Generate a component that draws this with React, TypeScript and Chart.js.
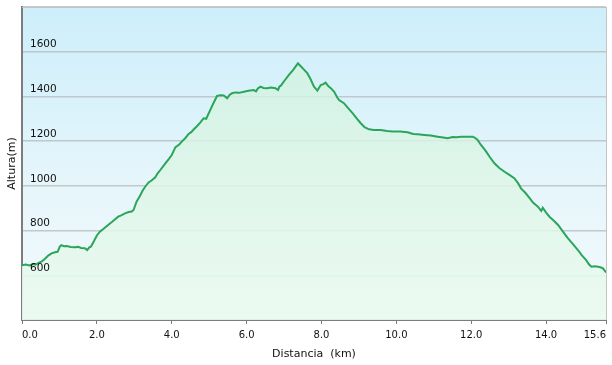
import React, { useEffect, useRef } from "react";
import { Chart, registerables } from "chart.js";

Chart.register(...registerables);

const distanceKm: number[] = [
  0.0, 0.1, 0.2, 0.29, 0.36, 0.43, 0.52, 0.6, 0.7, 0.79, 0.88, 0.95, 1.01, 1.05, 1.12, 1.2, 1.3, 1.41, 1.5, 1.58,
  1.68, 1.74, 1.8, 1.84, 1.92, 2.0, 2.08, 2.18, 2.3, 2.4, 2.48, 2.57, 2.65, 2.75, 2.85, 2.93, 2.98, 3.06, 3.15, 3.22,
  3.29, 3.38, 3.46, 3.56, 3.62, 3.7, 3.83, 3.92, 4.0, 4.1, 4.2, 4.28, 4.36, 4.45, 4.52, 4.59, 4.68, 4.76, 4.85, 4.92,
  5.03, 5.1, 5.21, 5.3, 5.39, 5.48, 5.55, 5.61, 5.7, 5.8, 5.93, 6.05, 6.19, 6.25, 6.3, 6.37, 6.45, 6.55, 6.65, 6.77,
  6.84, 6.88, 6.91, 7.0, 7.13, 7.25, 7.37, 7.44, 7.52, 7.62, 7.7, 7.8, 7.89, 7.98, 8.05, 8.11, 8.18, 8.25, 8.34, 8.42,
  8.47, 8.6, 8.7, 8.83, 8.95, 9.05, 9.15, 9.27, 9.4, 9.58, 9.75, 9.9, 10.1, 10.3, 10.45, 10.57, 10.75, 10.92, 11.1, 11.25,
  11.37, 11.5, 11.6, 11.73, 11.9, 12.04, 12.1, 12.17, 12.25, 12.35, 12.4, 12.5, 12.62, 12.75, 12.89, 13.02, 13.15, 13.25, 13.33, 13.45,
  13.56, 13.65, 13.78, 13.87, 13.91, 14.0, 14.09, 14.2, 14.32, 14.45, 14.58, 14.7, 14.85, 14.95, 15.07, 15.15, 15.21, 15.3, 15.39, 15.45,
  15.52, 15.6,
];

const altitudeM: number[] = [
  645, 648, 644, 650, 647, 654, 661, 672, 688, 698, 703, 705, 728, 735, 730, 731, 727, 725, 727, 722,
  721, 713, 725, 728, 752, 778, 795, 808, 825, 838, 850, 862, 868, 877, 883, 885, 892, 929, 955, 978,
  996, 1015, 1024, 1038, 1055, 1072, 1101, 1120, 1138, 1173, 1185, 1200, 1213, 1232, 1240, 1253, 1268, 1283, 1302, 1300,
  1340, 1365, 1402, 1405, 1404, 1392, 1408, 1414, 1418, 1416, 1421, 1425, 1429, 1423, 1436, 1444, 1438, 1437, 1440, 1437,
  1429, 1445, 1447, 1468, 1496, 1520, 1548, 1536, 1522, 1504, 1480, 1444, 1426, 1451, 1455, 1462, 1446, 1437, 1421, 1395,
  1384, 1370, 1350, 1325, 1300, 1280, 1262, 1253, 1250, 1250, 1245, 1243, 1243, 1240, 1232, 1231, 1228, 1225, 1220, 1216,
  1213, 1218, 1217, 1220, 1220, 1220, 1215, 1205, 1185, 1164, 1153, 1128, 1101, 1080, 1063, 1049, 1034, 1012, 989, 968,
  945, 925, 907, 888, 902, 880, 862, 845, 825, 795, 766, 743, 713, 690, 668, 648, 638, 640, 638, 636,
  631, 613,
];

const xTickValues: number[] = [0, 2, 4, 6, 8, 10, 12, 14, 15.6];
const yTickValues: number[] = [400, 600, 800, 1000, 1200, 1400, 1600, 1800];
const yLabeledTicks: number[] = [600, 800, 1000, 1200, 1400, 1600];

const xTitle = "Distancia  (km)";
const yTitle = "Altura(m)";

const backgroundPlugin = {
  id: "bgPlugin",
  beforeDraw(chart: any) {
    const { ctx, chartArea } = chart;
    if (!chartArea) return;
    const g = ctx.createLinearGradient(0, chartArea.top, 0, chartArea.bottom);
    g.addColorStop(0, "#cdeefa");
    g.addColorStop(0.6, "#e7f6fb");
    g.addColorStop(1, "#f3fafd");
    ctx.save();
    ctx.fillStyle = g;
    ctx.fillRect(chartArea.left, chartArea.top, chartArea.right - chartArea.left, chartArea.bottom - chartArea.top);
    ctx.restore();
  },
  afterDraw(chart: any) {
    const { ctx, chartArea } = chart;
    ctx.save();
    ctx.strokeStyle = "#c4c4c4";
    ctx.lineWidth = 1;
    ctx.beginPath();
    ctx.moveTo(chartArea.left, chartArea.top + 0.5);
    ctx.lineTo(chartArea.right + 0.5, chartArea.top + 0.5);
    ctx.moveTo(chartArea.right + 0.5, chartArea.top);
    ctx.lineTo(chartArea.right + 0.5, chartArea.bottom);
    ctx.stroke();
    ctx.restore();
  },
};

export default function App() {
  const canvasRef = useRef<HTMLCanvasElement | null>(null);

  useEffect(() => {
    document.body.style.margin = "0";
    const canvas = canvasRef.current;
    if (!canvas) return;
    Chart.defaults.font.family = "'DejaVu Sans', Verdana, sans-serif";
    Chart.defaults.color = "#111";

    const points = distanceKm.map((d, i) => ({ x: d, y: altitudeM[i] }));

    const chart = new Chart(canvas, {
      type: "line",
      data: {
        datasets: [
          {
            data: points,
            borderColor: "#2aa55a",
            borderWidth: 2,
            pointRadius: 0,
            tension: 0,
            fill: "start",
            backgroundColor: (context: any) => {
              const c = context.chart;
              const area = c.chartArea;
              if (!area) return "rgba(200,240,215,0.6)";
              const g = c.ctx.createLinearGradient(0, area.top, 0, area.bottom);
              g.addColorStop(0, "rgba(205,240,220,0.75)");
              g.addColorStop(1, "rgba(235,250,240,0.9)");
              return g;
            },
          },
        ],
      },
      options: {
        responsive: false,
        animation: false,
        events: [],
        layout: { padding: { top: 7, right: 6, left: 0, bottom: 0 } },
        plugins: {
          legend: { display: false },
          tooltip: { enabled: false },
        },
        scales: {
          x: {
            type: "linear",
            min: 0,
            max: 15.6,
            afterBuildTicks: (scale: any) => {
              scale.ticks = xTickValues.map((v) => ({ value: v }));
            },
            afterFit: (scale: any) => {
              scale.height = 45;
              scale.paddingLeft = 0;
              scale.paddingRight = 0;
            },
            ticks: {
              autoSkip: false,
              maxRotation: 0,
              align: "inner",
              padding: 5,
              font: { size: 10 },
              color: "#111",
              callback: (v: any) => Number(v).toFixed(1),
            },
            grid: {
              drawOnChartArea: false,
              drawTicks: true,
              tickLength: 4,
              color: "#7a7a7a",
              lineWidth: 1,
            },
            border: { display: true, color: "#7d7d7d", width: 2 },
            title: {
              display: true,
              text: xTitle,
              font: { size: 11 },
              color: "#111",
              padding: { top: 2, bottom: 4 },
            },
          },
          y: {
            type: "linear",
            min: 400,
            max: 1800,
            afterBuildTicks: (scale: any) => {
              scale.ticks = yTickValues.map((v) => ({ value: v }));
            },
            afterFit: (scale: any) => {
              scale.width = 22;
              scale.paddingTop = 0;
              scale.paddingBottom = 0;
            },
            ticks: {
              mirror: true,
              z: 1,
              padding: 8,
              labelOffset: -7,
              font: { size: 10.5 },
              color: "#111",
              callback: (v: any) => (yLabeledTicks.includes(Number(v)) ? String(v) : ""),
            },
            grid: {
              drawTicks: false,
              color: (ctx: any) => {
                const v = ctx.tick ? ctx.tick.value : 0;
                if (v === 400) return "rgba(0,0,0,0)";
                return "rgba(180,186,190,0.75)";
              },
              lineWidth: 1.5,
            },
            border: { display: true, color: "#7d7d7d", width: 2 },
            title: {
              display: true,
              text: yTitle,
              font: { size: 11 },
              color: "#111",
              padding: { top: 6, bottom: 0 },
            },
          },
        },
      },
      plugins: [backgroundPlugin],
    } as any);

    return () => {
      chart.destroy();
    };
  }, []);

  return (
    <div style={{ position: "fixed", left: 0, top: 0, width: 612, height: 365, background: "#ffffff" }}>
      <canvas ref={canvasRef} width={612} height={365} style={{ width: 612, height: 365, display: "block" }} />
    </div>
  );
}
